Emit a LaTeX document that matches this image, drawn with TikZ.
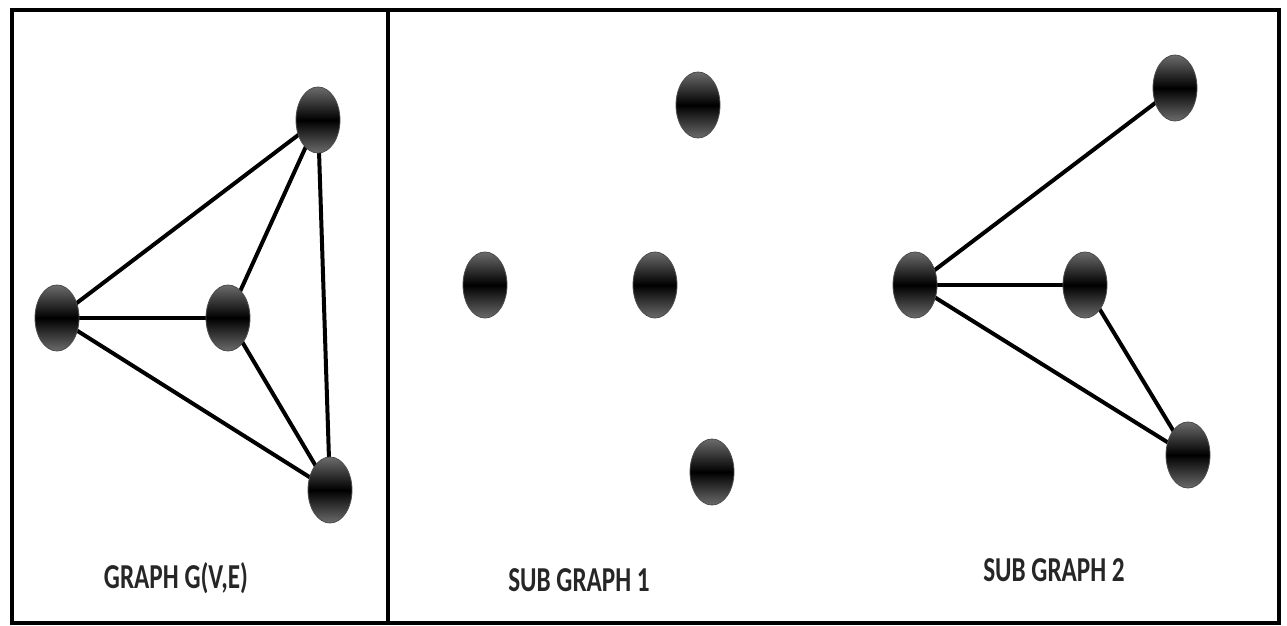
\documentclass[tikz,border=0pt]{standalone}
\usepackage{fontspec}
\setmainfont{Carlito}
\usetikzlibrary{positioning,backgrounds,shapes.geometric}

\begin{document}
\begin{tikzpicture}[
  x=1pt, y=-1pt,
  vtx/.style={draw=black!70, line width=0.8pt, ellipse, minimum width=44pt, minimum height=66pt, inner sep=0pt,
    top color=black!58, bottom color=black!58, middle color=black},
  edge/.style={line width=4pt, black},
  caption/.style={font=\bfseries\fontsize{35}{40}\selectfont, text=black!85, xscale=0.72},
]
\useasboundingbox (0,0) rectangle (1287,626);
% frame
\draw[line width=4.5pt] (12,10) rectangle (1279,623);
\draw[line width=4.5pt] (388,10) -- (388,623);
% graph G
\node[vtx] (ga) at (318,120) {};
\node[vtx] (gb) at (57,318) {};
\node[vtx] (gc) at (228,318) {};
\node[vtx] (gd) at (330,490) {};
% sub graph 1
\node[vtx] (sa) at (698,105) {};
\node[vtx] (sb) at (485,285) {};
\node[vtx] (sc) at (655,285) {};
\node[vtx] (sd) at (712,472) {};
% sub graph 2
\node[vtx] (ta) at (1175,88) {};
\node[vtx] (tb) at (915,285) {};
\node[vtx] (tc) at (1085,285) {};
\node[vtx] (td) at (1188,455) {};
% edges
\begin{scope}[on background layer]
\draw[edge] (gb.center) -- (ga.center);
\draw[edge] (gb.center) -- (gc.center);
\draw[edge] (gb.center) -- (gd.center);
\draw[edge] (gc.center) -- (ga.center);
\draw[edge] (gc.center) -- (gd.center);
\draw[edge] (ga.center) -- (gd.center);
\draw[edge] (tb.center) -- (ta.center);
\draw[edge] (tb.center) -- (tc.center);
\draw[edge] (tb.center) -- (td.center);
\draw[edge] (tc.center) -- (td.center);
\end{scope}
% labels
\node[caption] (lg) at (176,578) {GRAPH G(V,E)};
\node[caption] (l1) at (579,580) {SUB GRAPH 1};
\node[caption] (l2) at (1054,570) {SUB GRAPH 2};
\end{tikzpicture}
\end{document}
